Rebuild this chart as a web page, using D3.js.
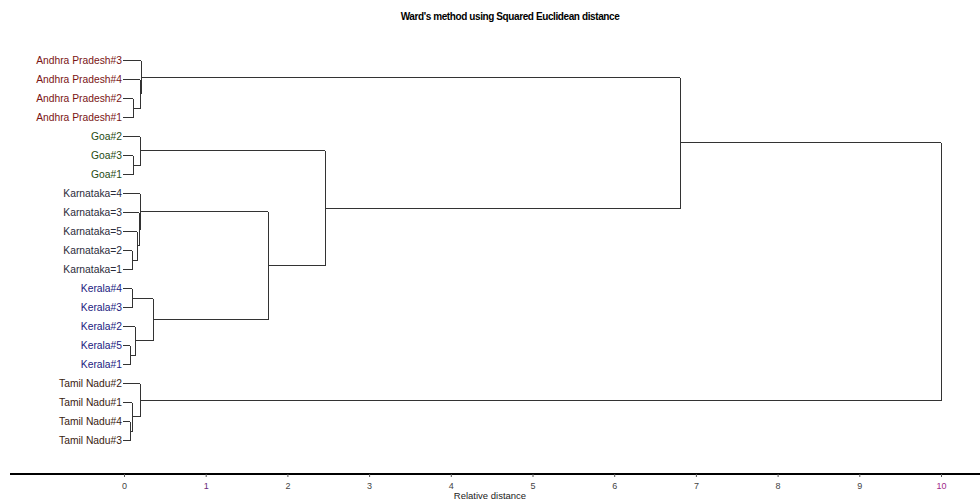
<!DOCTYPE html>
<html>
<head>
<meta charset="utf-8">
<script src="https://cdn.jsdelivr.net/npm/d3@7"></script>
<style>
  html, body { margin: 0; padding: 0; background: #fff; }
  svg { display: block; }
</style>
</head>
<body>
<svg id="chart" width="980" height="502"></svg>
<script>
// ---- Data ----
const title = "Ward's method using Squared Euclidean distance";
const axisTitle = "Relative distance";
const leaves = [
  "Andhra Pradesh#3", "Andhra Pradesh#4", "Andhra Pradesh#2", "Andhra Pradesh#1",
  "Goa#2", "Goa#3", "Goa#1",
  "Karnataka=4", "Karnataka=3", "Karnataka=5", "Karnataka=2", "Karnataka=1",
  "Kerala#4", "Kerala#3", "Kerala#2", "Kerala#5", "Kerala#1",
  "Tamil Nadu#2", "Tamil Nadu#1", "Tamil Nadu#4", "Tamil Nadu#3"
];
const leafGroup = [
  "AP","AP","AP","AP",
  "Goa","Goa","Goa",
  "Kar","Kar","Kar","Kar","Kar",
  "Ker","Ker","Ker","Ker","Ker",
  "TN","TN","TN","TN"
];
const groupColors = { AP: "#7a1414", Goa: "#1f4a12", Kar: "#2b2b3a", Ker: "#1a1a80", TN: "#3a1c10" };
// merges: [left node, right node, height]; node ids 0..20 are leaves, 21+ are merges in order
const merges = [
  [15, 16, 0.07],  // 21
  [19, 20, 0.07],  // 22
  [12, 13, 0.094], // 23
  [10, 11, 0.10],  // 24
  [18, 22, 0.10],  // 25
  [2, 3, 0.11],    // 26
  [5, 6, 0.11],    // 27
  [14, 21, 0.135], // 28
  [9, 24, 0.155],  // 29
  [8, 29, 0.18],   // 30
  [1, 26, 0.19],   // 31
  [17, 25, 0.19],  // 32
  [4, 27, 0.20],   // 33
  [7, 30, 0.20],   // 34
  [0, 31, 0.21],   // 35
  [23, 28, 0.36],  // 36
  [34, 36, 1.76],  // 37
  [33, 37, 2.46],  // 38
  [35, 38, 6.80],  // 39
  [39, 32, 10.0]   // 40
];
const ticks = [0, 1, 2, 3, 4, 5, 6, 7, 8, 9, 10];
const tickColors = { 1: "#6a2a7a", 10: "#a02a8a" };

// ---- Layout ----
const svg = d3.select("#chart");
const x = d3.scaleLinear().domain([0, 10]).range([124, 941]);
const y = d3.scalePoint().domain(d3.range(leaves.length)).range([60, 440]);

const nodeY = [], nodeH = [];
leaves.forEach((d, i) => { nodeY[i] = y(i); nodeH[i] = 0; });
merges.forEach((m, k) => {
  const id = leaves.length + k;
  nodeY[id] = (nodeY[m[0]] + nodeY[m[1]]) / 2;
  nodeH[id] = m[2];
});

// title
svg.append("text")
  .attr("x", 510).attr("y", 20)
  .attr("text-anchor", "middle")
  .attr("font-family", "Liberation Sans, Arial, sans-serif")
  .attr("font-size", 10).attr("font-weight", "bold")
  .attr("letter-spacing", -0.4)
  .attr("fill", "#000")
  .text(title);

// leaf labels
svg.append("g").selectAll("text").data(leaves).join("text")
  .attr("x", x(0) - 2)
  .attr("y", (d, i) => y(i))
  .attr("dy", "0.35em")
  .attr("text-anchor", "end")
  .attr("font-family", "Liberation Sans, Arial, sans-serif")
  .attr("font-size", 10.3)
  .attr("fill", (d, i) => groupColors[leafGroup[i]])
  .text(d => d);

// dendrogram links
const links = svg.append("g")
  .attr("stroke", "#333").attr("stroke-width", 1).attr("fill", "none")
  .attr("shape-rendering", "crispEdges");
merges.forEach((m, k) => {
  const hx = x(m[2]);
  [m[0], m[1]].forEach(c => {
    const cx = c < leaves.length ? x(0) - 1 : x(nodeH[c]);
    links.append("line")
      .attr("x1", cx).attr("x2", hx)
      .attr("y1", Math.round(nodeY[c]) + 0.5).attr("y2", Math.round(nodeY[c]) + 0.5);
  });
  links.append("line")
    .attr("x1", Math.round(hx) + 0.5).attr("x2", Math.round(hx) + 0.5)
    .attr("y1", Math.round(nodeY[m[0]]) + 0.5).attr("y2", Math.round(nodeY[m[1]]) + 0.5);
});

// axis
const axisY = 474;
svg.append("line")
  .attr("x1", 10).attr("x2", 980)
  .attr("y1", axisY).attr("y2", axisY)
  .attr("stroke", "#000").attr("stroke-width", 2);
const ax = svg.append("g")
  .attr("transform", `translate(0,${axisY})`)
  .call(d3.axisBottom(x).tickValues(ticks).tickSize(3).tickFormat(d3.format("d")));
ax.select(".domain").remove();
ax.selectAll(".tick line").attr("stroke", "#555");
ax.selectAll(".tick text")
  .attr("font-family", "Liberation Sans, Arial, sans-serif")
  .attr("font-size", 9)
  .attr("dy", "1.05em")
  .attr("fill", d => tickColors[d] || "#444");

svg.append("text")
  .attr("x", 490).attr("y", 499)
  .attr("text-anchor", "middle")
  .attr("font-family", "Liberation Sans, Arial, sans-serif")
  .attr("font-size", 9.5)
  .attr("fill", "#222")
  .text(axisTitle);
</script>
</body>
</html>
